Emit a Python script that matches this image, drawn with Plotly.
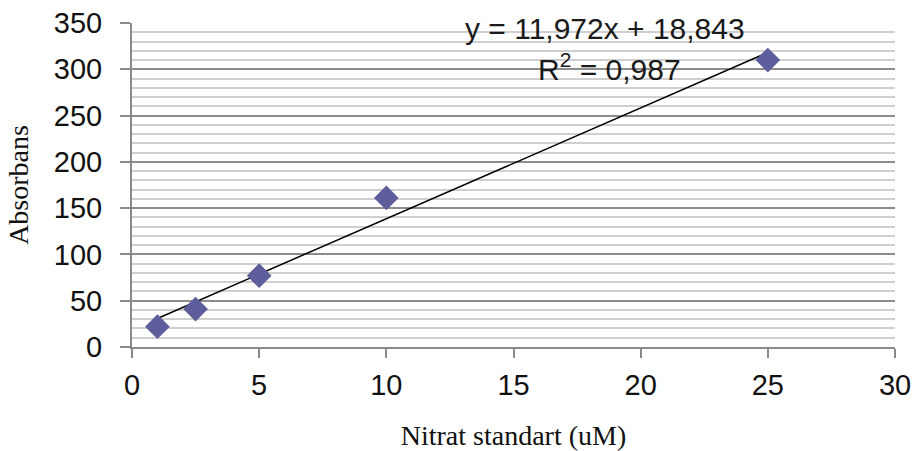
import plotly.graph_objects as go

x_vals = [1, 2.5, 5, 10, 25]
y_vals = [22, 41, 77, 161, 310]
slope = 11.972
intercept = 18.843
r2_text = "0,987"
eq_text = "y = 11,972x + 18,843"

x_ticks = [0, 5, 10, 15, 20, 25, 30]
y_ticks = [0, 50, 100, 150, 200, 250, 300, 350]

line_x = [min(x_vals), max(x_vals)]
line_y = [slope * v + intercept for v in line_x]

fig = go.Figure()
fig.add_trace(go.Scatter(x=line_x, y=line_y, mode="lines",
                         line=dict(color="black", width=1.5), showlegend=False))
fig.add_trace(go.Scatter(x=x_vals, y=y_vals, mode="markers",
                         marker=dict(symbol="diamond", size=19, color="#5E5E9C", line=dict(width=0)),
                         showlegend=False))

fig.add_annotation(x=13.0, y=344, xref="x", yref="y", text=eq_text, showarrow=False,
                   xanchor="left", yanchor="middle",
                   font=dict(family="Liberation Sans, Arial", size=30, color="#1a1a1a"))
fig.add_annotation(x=15.9, y=303, xref="x", yref="y", text="R<sup>2</sup> = " + r2_text, showarrow=False,
                   xanchor="left", yanchor="middle",
                   font=dict(family="Liberation Sans, Arial", size=30, color="#1a1a1a"))

fig.update_layout(
    width=913, height=451,
    margin=dict(l=132, r=18, t=23, b=104),
    paper_bgcolor="white", plot_bgcolor="white",
    font=dict(family="Liberation Sans, Arial", size=28, color="#111111"),
)
fig.update_xaxes(range=[0, 30], tickvals=x_ticks, showgrid=False, zeroline=False, automargin=False,
                 showline=True, linecolor="#8a8a8a", linewidth=2,
                 ticks="outside", ticklen=9, tickcolor="#8a8a8a", tickwidth=2, ticklabelstandoff=2,
                 tickfont=dict(family="Liberation Sans, Arial", size=29, color="#111111"),
                 title=dict(text="Nitrat standart (uM)", standoff=30,
                            font=dict(family="Liberation Serif, Times New Roman", size=28, color="#111111")))
fig.update_yaxes(range=[0, 350], tickvals=y_ticks, showgrid=True, gridcolor="#8c8c8c", gridwidth=1.5,
                 zeroline=False, showline=True, linecolor="#8a8a8a", linewidth=2, automargin=False,
                 ticks="outside", ticklen=10, tickcolor="#8a8a8a", tickwidth=2, ticklabelstandoff=12,
                 minor=dict(dtick=10, showgrid=True, gridcolor="#cfcfcf", gridwidth=1.5),
                 tickfont=dict(family="Liberation Sans, Arial", size=29, color="#111111"),
                 title=dict(text="Absorbans", standoff=17,
                            font=dict(family="Liberation Serif, Times New Roman", size=28, color="#111111")))

fig.write_html("out.html", config={"displayModeBar": False})

with open("out.html", "r", encoding="utf-8") as f:
    html = f.read()
html = html.replace("<body>", '<body style="margin:0;padding:0;overflow:hidden">', 1)
with open("out.html", "w", encoding="utf-8") as f:
    f.write(html)
